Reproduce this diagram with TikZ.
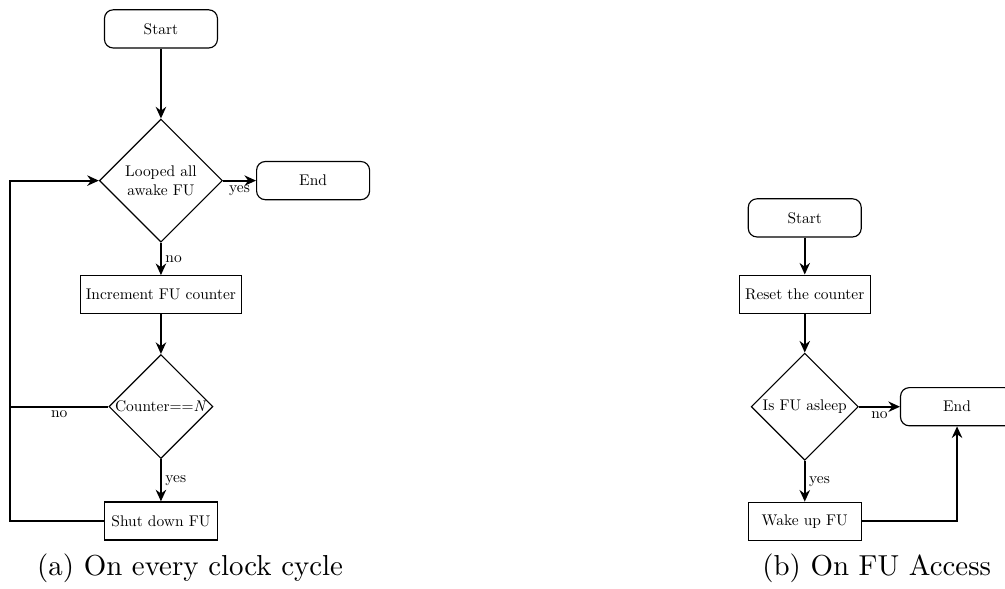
\documentclass[tikz,border=0pt]{standalone}
\usepackage{fontspec}
\usetikzlibrary{positioning,shapes.geometric,arrows.meta}
\newfontfamily\chartfont{lmroman10-regular}[Extension=.otf, ItalicFont=lmroman10-italic]

\begin{document}
\begin{tikzpicture}[
  font=\chartfont\fontsize{5.35}{6.4}\selectfont, >={Stealth[length=4pt,width=3.6pt]},
  term/.style={draw, rounded corners=3pt, minimum width=39.1pt, minimum height=13.2pt, inner sep=2pt},
  proc/.style={draw, minimum width=39.1pt, minimum height=13.2pt, inner sep=2pt},
  decide/.style={draw, diamond, aspect=1, inner sep=0pt, align=center},
  link/.style={->, line width=0.7pt},
  rail/.style={line width=0.7pt},
  lbl/.style={inner sep=1.2pt},
  subcap/.style={font=\chartfont\fontsize{10}{12}\selectfont}]
\useasboundingbox (0,0) rectangle (347.8pt,-203.5pt);
% (a) every clock cycle
\node[term] (starta) at (55.7pt,-10pt) {Start};
\node[decide, minimum size=42.6pt, below=24.2pt of starta] (looped) {Looped all\\awake FU};
\node[term, right=11.4pt of looped] (enda) {End};
\node[proc, below=11.2pt of looped] (incr) {Increment FU counter};
\node[decide, minimum size=36pt, below=13.7pt of incr] (full) {Counter==\textit{N}};
\node[proc, below=14.6pt of full] (shut) {Shut down FU};
\coordinate (back) at (3.5pt,0);
\draw[link] (starta) -- (looped);
\draw[link] (looped) -- node[lbl, below] {yes} (enda);
\draw[link] (looped) -- node[lbl, right] {no} (incr);
\draw[link] (incr) -- (full);
\draw[link] (full) -- node[lbl, right] {yes} (shut);
\draw[rail] (full.west) -- node[lbl, below] {no} (full.west -| back);
\draw[link] (shut.west) -- (shut.west -| back) |- (looped.west);
% (b) on FU access
\node[term] (startb) at (278.5pt,-75.4pt) {Start};
\node[proc, below=12.8pt of startb] (reset) {Reset the counter};
\node[decide, minimum size=37.1pt, below=13.4pt of reset] (asleep) {Is FU asleep};
\node[term, right=14.2pt of asleep] (endb) {End};
\node[proc, below=14.1pt of asleep] (wake) {Wake up FU};
\draw[link] (startb) -- (reset);
\draw[link] (reset) -- (asleep);
\draw[link] (asleep) -- node[lbl, below] {no} (endb);
\draw[link] (asleep) -- node[lbl, right] {yes} (wake);
\draw[link] (wake.east) -| (endb.south);
% captions
\node[subcap] (capa) at (65.8pt,-196.7pt) {(a) On every clock cycle};
\node[subcap] (capb) at (303.4pt,-196.7pt) {(b) On FU Access};
\end{tikzpicture}
\end{document}
